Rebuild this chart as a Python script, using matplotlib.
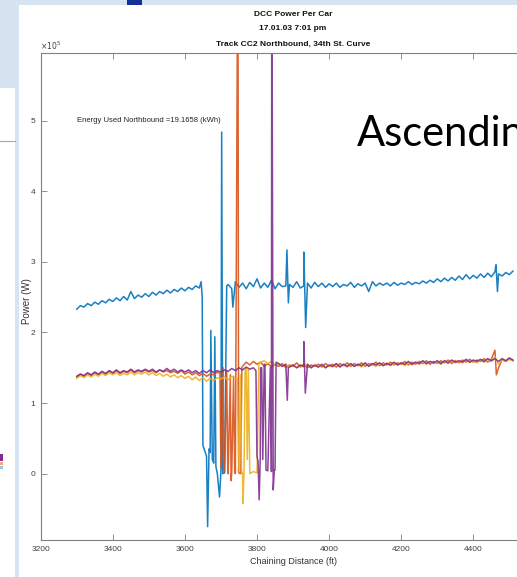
import numpy as np
import matplotlib.pyplot as plt
from matplotlib.patches import Rectangle
from matplotlib.lines import Line2D

# chaining distance samples (ft)
dist = [3300, 3310, 3320, 3330, 3340, 3350, 3360, 3370, 3380, 3390,
        3400, 3410, 3420, 3430, 3440, 3450, 3460, 3470, 3480, 3490,
        3500, 3510, 3520, 3530, 3540, 3550, 3560, 3570, 3580, 3590,
        3600, 3610, 3620, 3630, 3640, 3650, 3660, 3670, 3680, 3690,
        3700, 3710, 3720, 3730, 3740, 3750, 3760, 3770, 3780, 3790,
        3800, 3810, 3820, 3830, 3840, 3850, 3860, 3870, 3880, 3890,
        3900, 3910, 3920, 3930, 3940, 3950, 3960, 3970, 3980, 3990,
        4000, 4010, 4020, 4030, 4040, 4050, 4060, 4070, 4080, 4090,
        4100, 4110, 4120, 4130, 4140, 4150, 4160, 4170, 4180, 4190,
        4200, 4210, 4220, 4230, 4240, 4250, 4260, 4270, 4280, 4290,
        4300, 4310, 4320, 4330, 4340, 4350, 4360, 4370, 4380, 4390,
        4400, 4410, 4420, 4430, 4440, 4450, 4460, 4470, 4480, 4490,
        4500, 4510]

# power per car (kW) at each sample
car1 = [233, 238, 236, 241, 238, 243, 240, 245, 242, 247,
        244, 249, 245, 251, 246, 258, 248, 253, 250, 255,
        251, 257, 253, 258, 255, 260, 256, 261, 258, 263,
        259, 264, 261, 266, 263, 40, 25, 30, 15, 0,
        3, 1, 268, 262, 272, 264, 270, 262, 271, 265,
        276, 263, 270, 264, 274, 262, 270, 265, 266, 268,
        264, 272, 263, 266, 270, 263, 271, 265, 270, 264,
        269, 265, 270, 264, 268, 266, 271, 264, 269, 266,
        270, 258, 272, 266, 270, 267, 270, 266, 271, 267,
        270, 268, 272, 268, 271, 269, 273, 270, 274, 271,
        276, 272, 277, 273, 278, 274, 280, 275, 282, 276,
        281, 277, 283, 278, 284, 279, 286, 283, 280, 285,
        282, 287]
car2 = [137, 141, 138, 142, 139, 143, 140, 144, 141, 145,
        142, 146, 142, 145, 143, 147, 143, 146, 144, 147,
        144, 146, 143, 147, 144, 146, 143, 145, 142, 146,
        141, 144, 140, 143, 139, 142, 138, 141, 140, 144,
        8, 3, 0, 2, 0, 1, 152, 158, 154, 159,
        155, 158, 152, 156, 151, 155, 152, 156, 150, 154,
        152, 157, 151, 155, 150, 154, 152, 155, 151, 156,
        152, 155, 151, 156, 153, 157, 152, 156, 153, 157,
        152, 156, 154, 158, 153, 157, 154, 158, 154, 157,
        155, 159, 154, 158, 155, 159, 156, 160, 155, 159,
        156, 160, 157, 161, 156, 160, 157, 161, 158, 162,
        158, 161, 159, 163, 158, 162, 175, 150, 162, 159,
        163, 160]
car3 = [135, 139, 136, 140, 137, 141, 138, 142, 139, 143,
        140, 143, 139, 142, 140, 144, 140, 143, 141, 144,
        140, 143, 139, 142, 138, 141, 137, 140, 136, 139,
        135, 138, 133, 137, 132, 136, 131, 135, 132, 136,
        134, 137, 133, 138, 135, 5, 2, 150, 0, 3,
        1, 158, 160, 156, 159, 154, 156, 152, 155, 151,
        154, 150, 153, 151, 155, 150, 153, 151, 154, 150,
        153, 151, 155, 152, 154, 151, 155, 152, 155, 151,
        156, 153, 155, 152, 156, 153, 157, 153, 156, 154,
        157, 153, 157, 154, 158, 155, 158, 155, 159, 156,
        158, 155, 159, 156, 160, 157, 159, 157, 161, 158,
        160, 157, 161, 158, 162, 159, 165, 155, 161, 159,
        162, 160]
car4 = [138, 141, 139, 143, 140, 144, 141, 145, 142, 146,
        143, 147, 143, 146, 144, 148, 144, 147, 145, 148,
        145, 148, 144, 147, 145, 149, 145, 148, 144, 147,
        144, 147, 143, 146, 142, 146, 143, 147, 143, 146,
        144, 147, 145, 149, 146, 150, 147, 151, 148, 150,
        25, 150, 155, 4, 3, 5, 156, 152, 155, 151,
        154, 150, 154, 152, 155, 150, 154, 151, 155, 150,
        154, 152, 156, 151, 155, 152, 156, 152, 155, 153,
        157, 152, 156, 154, 157, 153, 156, 154, 158, 154,
        157, 155, 159, 155, 158, 156, 160, 156, 159, 157,
        160, 156, 160, 157, 161, 158, 160, 158, 162, 158,
        161, 159, 162, 159, 163, 160, 163, 159, 163, 160,
        164, 161]

# extra samples where the power switches (ft, kW)
car1_sw_x = [3645, 3648, 3663, 3667, 3672, 3676, 3683, 3686, 3696, 3702, 3705, 3716,
             3733, 3883, 3887, 3930, 3935, 4463, 4467]
car1_sw_y = [272, 250, -75, 35, 203, 20, 194, 10, -33, 484, 0, 266,
             236, 317, 242, 314, 207, 296, 258]
car2_sw_x = [3697, 3702, 3706, 3708, 3716, 3719, 3726, 3728, 3735, 3738, 3747, 3749,
             3755, 3758, 4464]
car2_sw_y = [142, 19, 150, 5, 145, 3, 140, -10, 138, 2, 800, 3,
             0, 150, 140]
car3_sw_x = [3745, 3754, 3757, 3761, 3764, 3767, 3773, 3776, 3805]
car3_sw_y = [135, 140, 2, -42, 2, 145, 20, 148, 155]
car4_sw_x = [3797, 3803, 3806, 3809, 3813, 3816, 3822, 3825, 3837, 3841, 3845, 3848,
             3853, 3884, 3887, 3930, 3934]
car4_sw_y = [146, 17, -37, 22, 150, 20, 155, 5, 150, 800, -23, 5,
             158, 104, 150, 187, 114]

colors = ['#0072BD', '#D95319', '#EDB120', '#7E2F8E']

fig = plt.figure(figsize=(5.17, 5.77), dpi=100, facecolor='#D6E4F2')
plt.rcParams['font.family'] = ['Liberation Sans', 'DejaVu Sans']

W, H = 517, 577
def box(x0, y0, x1, y1, color, z=-1):
    fig.add_artist(Rectangle((x0 / W, 1 - y1 / H), (x1 - x0) / W, (y1 - y0) / H,
                             transform=fig.transFigure, facecolor=color,
                             edgecolor='none', zorder=z))

# slide pieces around the chart
box(19, 5, 517, 577, 'white')
box(0, 88, 15, 577, 'white')
box(127, 0, 142, 5, '#13309A', 2)
box(0, 454, 3, 461, '#7E2F8E', 2)
box(0, 462, 3, 465, '#F4A582', 2)
box(0, 466, 3, 469, '#9DC3E6', 2)
fig.add_artist(Line2D([0, 15 / W], [1 - 141 / H, 1 - 141 / H], color='#A6A6A6',
                      lw=0.8, transform=fig.transFigure))

ax = fig.add_axes([40.7 / W, 37 / H, 504.7 / W, 487 / H])

series = [(car1, car1_sw_x, car1_sw_y), (car2, car2_sw_x, car2_sw_y),
          (car3, car3_sw_x, car3_sw_y), (car4, car4_sw_x, car4_sw_y)]
for (vals, sx, sy), c in zip(series, colors):
    x = np.concatenate([dist, sx])
    y = np.concatenate([vals, sy]) * 1000.0
    order = np.argsort(x, kind='stable')
    ax.plot(x[order], y[order], color=c, lw=1.1, alpha=0.9)

ax.set_xlim(3200, 4600)
ax.set_ylim(-94000, 596000)
ax.set_xticks([3200, 3400, 3600, 3800, 4000, 4200, 4400])
ax.set_yticks([0, 100000, 200000, 300000, 400000, 500000])
ax.set_yticklabels(['0', '1', '2', '3', '4', '5'])
ax.tick_params(direction='in', length=4, width=0.6, colors='#808080',
               labelcolor='#404040', labelsize=6, top=True, pad=4)
for s in ax.spines.values():
    s.set_color('#808080')
    s.set_linewidth(0.8)

ax.set_xlabel('Chaining Distance (ft)', fontsize=6.5, color='#333333', labelpad=3)
ax.set_ylabel('Power (W)', fontsize=7, color='#333333')
ax.yaxis.set_label_coords(-0.018, 0.49)

ax.text(3300, 500000, 'Energy Used Northbound =19.1658 (kWh)', fontsize=5.5,
        color='#222222', va='center', ha='left')

fig.text(40 / W, 1 - 46 / H, r'$\times10^5$', fontsize=5.5, color='#404040',
         va='center', ha='left')
fig.text(293 / W, 1 - 15 / H, 'DCC Power Per Car', fontsize=6, fontweight='bold',
         ha='center', va='center', color='#111111')
fig.text(293 / W, 1 - 29 / H, '17.01.03 7:01 pm', fontsize=6, fontweight='bold',
         ha='center', va='center', color='#111111')
fig.text(293 / W, 1 - 44 / H, 'Track CC2 Northbound, 34th St. Curve', fontsize=6,
         fontweight='bold', ha='center', va='center', color='#111111')

fig.text(357 / W, 1 - 146 / H, 'Ascendin', fontsize=30, family=['Lato', 'DejaVu Sans'],
         ha='left', va='baseline', color='black')

plt.savefig('out.png', dpi=100, facecolor=fig.get_facecolor())
